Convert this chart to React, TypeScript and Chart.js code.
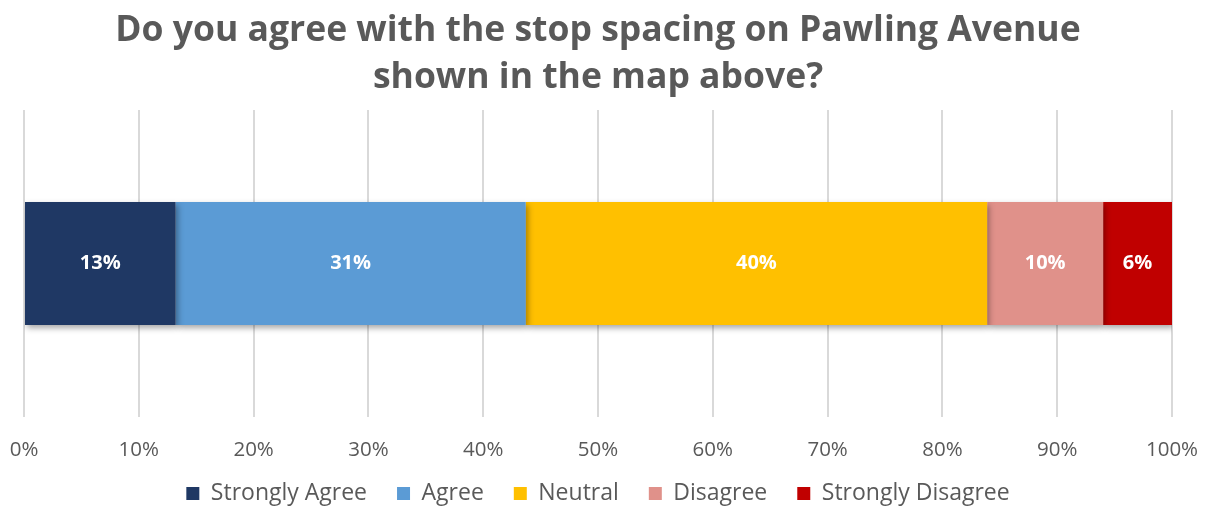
import React, { useEffect, useRef } from "react";
import { Chart, registerables } from "chart.js";

Chart.register(...registerables);

const categories = ["Pawling Avenue"];
const seriesNames = ["Strongly Agree", "Agree", "Neutral", "Disagree", "Strongly Disagree"];
const seriesValues = [13.2, 30.5, 40.2, 10.1, 6.0];
const seriesLabels = ["13%", "31%", "40%", "10%", "6%"];
const seriesColors = ["#1F3864", "#5B9BD5", "#FFC000", "#E0918A", "#C00000"];
const xTicks = [0, 10, 20, 30, 40, 50, 60, 70, 80, 90, 100];
const titleLines = ["Do you agree with the stop spacing on Pawling Avenue", "shown in the map above?"];

const FONT = "'Open Sans', Lato, sans-serif";
const LEGEND_FONT = 23;
const LEGEND_PAD = 30;
const AREA_BOTTOM = 417;
const CANVAS_H = 508;
const BOTTOM_PAD = -7;

const shadowPlugin = {
  id: "barShadow",
  beforeDatasetsDraw(chart: any) {
    const ctx = chart.ctx;
    ctx.save();
    ctx.shadowColor = "rgba(0,0,0,0.35)";
    ctx.shadowBlur = 6;
    ctx.shadowOffsetX = 2;
    ctx.shadowOffsetY = 3;
  },
  afterDatasetsDraw(chart: any) {
    chart.ctx.restore();
  },
};

const labelPlugin = {
  id: "segLabels",
  afterDatasetsDraw(chart: any) {
    const ctx = chart.ctx;
    ctx.save();
    ctx.fillStyle = "#ffffff";
    ctx.font = `bold 20px ${FONT}`;
    ctx.textAlign = "center";
    ctx.textBaseline = "middle";
    chart.data.datasets.forEach((ds: any, i: number) => {
      const meta = chart.getDatasetMeta(i);
      meta.data.forEach((el: any) => {
        const cx = (el.x + el.base) / 2;
        ctx.fillText(seriesLabels[i], cx, el.y);
      });
    });
    ctx.restore();
  },
};

export default function App() {
  const ref = useRef<HTMLCanvasElement>(null);
  useEffect(() => {
    document.body.style.margin = "0";
    const legendHeight = LEGEND_FONT + LEGEND_PAD + 10;
    const legendTop = CANVAS_H - BOTTOM_PAD - legendHeight;
    const axisHeight = legendTop - AREA_BOTTOM;
    const chart = new Chart(ref.current!, {
      type: "bar",
      data: {
        labels: categories,
        datasets: seriesNames.map((name, i) => ({
          label: name,
          data: [seriesValues[i]],
          backgroundColor: seriesColors[i],
          borderWidth: 0,
          barPercentage: 0.4,
          categoryPercentage: 1,
        })),
      },
      options: {
        indexAxis: "y",
        animation: false,
        responsive: false,
        maintainAspectRatio: false,
        layout: { padding: { left: 24, right: 34, top: 0, bottom: BOTTOM_PAD } },
        scales: {
          x: {
            stacked: true,
            min: 0,
            max: 100,
            afterBuildTicks(axis: any) {
              axis.ticks = xTicks.map((v) => ({ value: v }));
            },
            afterFit(axis: any) {
              axis.paddingLeft = 0;
              axis.paddingRight = 0;
              axis.height = axisHeight;
              axis._computeLabelArea = () => undefined;
            },
            ticks: {
              callback: (v: any) => `${v}%`,
              color: "#595959",
              font: { family: FONT, size: 20.5 },
              padding: 21,
              maxRotation: 0,
            },
            grid: { color: "#D9D9D9", lineWidth: 2, drawTicks: false },
            border: { display: false },
          },
          y: {
            stacked: true,
            display: false,
          },
        },
        plugins: {
          title: {
            display: true,
            text: titleLines,
            color: "#595959",
            font: { family: FONT, size: 35.5, weight: "bold", lineHeight: 1.324 },
            padding: { top: 7, bottom: 9 },
          },
          legend: {
            position: "bottom",
            labels: {
              color: "#595959",
              font: { family: FONT, size: LEGEND_FONT },
              boxWidth: 13,
              boxHeight: 13,
              padding: LEGEND_PAD,
            },
          },
          tooltip: { enabled: false },
        },
      },
      plugins: [shadowPlugin, labelPlugin],
    });
    return () => chart.destroy();
  }, []);
  return (
    <div style={{ width: 1206, height: 508, background: "#fff" }}>
      <canvas ref={ref} width={1206} height={508} style={{ display: "block" }} />
    </div>
  );
}
